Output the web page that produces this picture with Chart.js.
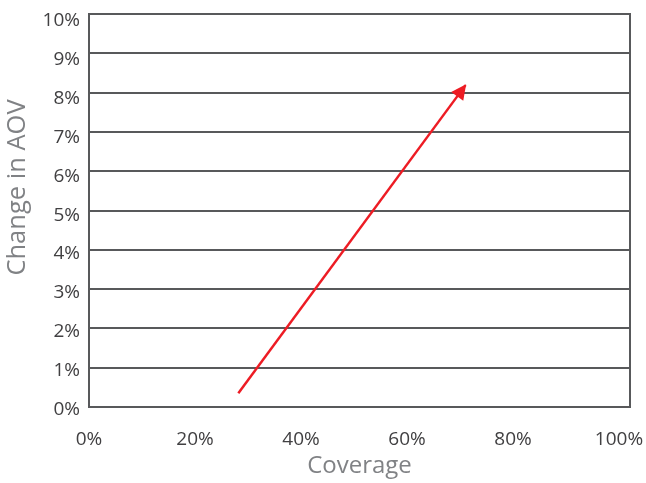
<!DOCTYPE html>
<html>
<head>
<meta charset="utf-8">
<script src="https://cdn.jsdelivr.net/npm/chart.js@4/dist/chart.umd.min.js"></script>
<style>
  html, body { margin: 0; padding: 0; background: #ffffff; }
  canvas { display: block; }
</style>
</head>
<body>
<canvas id="chart" width="646" height="483"></canvas>
<script>
// Coverage (%) against change in average order value (%)
const coverage = [27.6, 69.6];
const aovChange = [0.35, 8.19];

const xTickValues = [0, 20, 40, 60, 80, 100];
const yTickValues = [0, 1, 2, 3, 4, 5, 6, 7, 8, 9, 10];

const xTitle = 'Coverage';
const yTitle = 'Change in AOV';

const GRID = '#58595b';
const TICK_TEXT = '#414042';
const TITLE_TEXT = '#808285';
const ARROW = '#ed1c24';
const FONT = '"Open Sans", "DejaVu Sans", sans-serif';

const points = coverage.map((c, i) => ({ x: c, y: aovChange[i] }));

const setTicks = values => scale => {
  scale.ticks = values.map(v => ({ value: v }));
};

// Fix an axis' thickness and drop the extra room Chart.js reserves for edge labels
const fixSize = (prop, size) => scale => {
  scale[prop] = size;
  scale.paddingLeft = scale.paddingRight = scale.paddingTop = scale.paddingBottom = 0;
};

// Arrowhead at the last point of the trend line, plus the frame's right edge
// and the rotated y-axis title.
const decorations = {
  id: 'decorations',
  beforeDatasetsDraw(chart) {
    const { ctx, chartArea, scales } = chart;
    const xr = scales.x.getPixelForValue(scales.x.max);
    ctx.save();
    ctx.strokeStyle = GRID;
    ctx.lineWidth = 2;
    ctx.beginPath();
    ctx.moveTo(xr, chartArea.top - 1);
    ctx.lineTo(xr, chartArea.bottom + 1);
    ctx.stroke();

    ctx.fillStyle = TITLE_TEXT;
    ctx.font = '25.5px ' + FONT;
    ctx.textAlign = 'center';
    ctx.textBaseline = 'middle';
    ctx.translate(18, (chartArea.top + chartArea.bottom) / 2 - 23);
    ctx.rotate(-Math.PI / 2);
    ctx.fillText(yTitle, 0, 0);
    ctx.restore();
  },
  afterDatasetsDraw(chart) {
    const meta = chart.getDatasetMeta(0);
    const pts = meta.data;
    if (pts.length < 2) return;
    const a = pts[pts.length - 2], b = pts[pts.length - 1];
    const ang = Math.atan2(b.y - a.y, b.x - a.x);
    const len = 14, half = 7.5;
    const { ctx } = chart;
    ctx.save();
    ctx.fillStyle = ARROW;
    ctx.translate(b.x, b.y);
    ctx.rotate(ang);
    ctx.beginPath();
    ctx.moveTo(1, 0);
    ctx.lineTo(-len, -half);
    ctx.lineTo(-len, half);
    ctx.closePath();
    ctx.fill();
    ctx.restore();
  }
};

new Chart(document.getElementById('chart'), {
  type: 'line',
  data: {
    datasets: [{
      data: points,
      borderColor: ARROW,
      borderWidth: 2.5,
      pointRadius: 0,
      fill: false,
      tension: 0
    }]
  },
  options: {
    responsive: false,
    animation: false,
    layout: { padding: { top: 14, right: 16, left: 0, bottom: 0 } },
    plugins: {
      legend: { display: false },
      tooltip: { enabled: false }
    },
    scales: {
      x: {
        type: 'linear',
        position: 'bottom',
        weight: 0,
        min: 0,
        max: 100,
        grid: { display: false },
        border: { display: true, color: GRID, width: 2 },
        ticks: { display: false },
        afterFit: fixSize('height', 0)
      },
      xLabels: {
        type: 'linear',
        position: 'bottom',
        weight: 1,
        min: 0,
        max: 102.08,
        afterBuildTicks: setTicks(xTickValues),
        grid: { display: false, drawTicks: false },
        border: { display: false },
        ticks: {
          color: TICK_TEXT,
          font: { family: FONT, size: 19 },
          padding: 21,
          maxRotation: 0,
          autoSkip: false,
          callback: v => v + '%'
        },
        title: {
          display: true,
          text: xTitle,
          color: TITLE_TEXT,
          font: { family: FONT, size: 24 },
          padding: { top: 0, bottom: 2 }
        },
        afterFit: fixSize('height', 76)
      },
      y: {
        type: 'linear',
        position: 'left',
        weight: 0,
        min: 0,
        max: 10,
        afterBuildTicks: setTicks(yTickValues),
        grid: { color: GRID, lineWidth: 2, drawTicks: false },
        border: { display: true, color: GRID, width: 2 },
        ticks: { display: false },
        afterFit: fixSize('width', 0)
      },
      yLabels: {
        type: 'linear',
        position: 'left',
        weight: 1,
        min: 0.062,
        max: 10.18,
        afterBuildTicks: setTicks(yTickValues),
        grid: { display: false, drawTicks: false },
        border: { display: false },
        ticks: {
          color: TICK_TEXT,
          font: { family: FONT, size: 19 },
          padding: 9,
          autoSkip: false,
          callback: v => v + '%'
        },
        afterFit: fixSize('width', 89)
      }
    }
  },
  plugins: [decorations]
});
</script>
</body>
</html>
